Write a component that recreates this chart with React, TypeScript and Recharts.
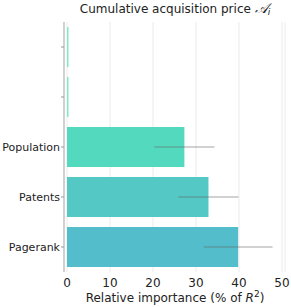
import React from 'react';
import { Bar, BarChart, CartesianGrid, Cell, ErrorBar, XAxis, YAxis } from 'recharts';

if (typeof document !== 'undefined') document.body.style.margin = '0';

const categories = ['c1', 'c2', 'Population', 'Patents', 'Pagerank'];
const tickLabels = ['', '', 'Population', 'Patents', 'Pagerank'];
const importance = [0.35, 0.35, 27.3, 32.9, 39.8];
const errors = [0, 0, 7.0, 7.0, 8.0];
const xTicks = [0, 10, 20, 30, 40, 50];

const COLORS = ['#7ee9c8', '#7ee9c8', '#53d9be', '#53c8c5', '#53bdcb'];
const FONT = '"DejaVu Sans", sans-serif';

const data = categories.map((c, i) => ({ key: c, label: tickLabels[i], value: importance[i], err: errors[i] }));

export default function App() {
	return (
		<div style={{ position: 'relative', width: 291, height: 307, background: '#fff', fontFamily: FONT, color: '#222' }}>
			<div style={{ position: 'absolute', left: 60, width: 230, top: 2, lineHeight: '14px', textAlign: 'center', fontSize: 12, whiteSpace: 'nowrap' }}>
				Cumulative acquisition price <span style={{ fontFamily: 'serif', fontStyle: 'italic', fontSize: 14 }}>𝒜</span>
				<i style={{ fontSize: 9, position: 'relative', top: 2 }}>i</i>
			</div>
			<div style={{ position: 'absolute', left: 60, width: 230, top: 291, lineHeight: '14px', textAlign: 'center', fontSize: 12, whiteSpace: 'nowrap' }}>
				Relative importance (% of <i>R</i>
				<sup style={{ fontSize: 9, lineHeight: 0 }}>2</sup>)
			</div>
			<BarChart width={291} height={307} data={data} layout="vertical" margin={{ top: 22, right: 6, bottom: 0, left: 0 }} barCategoryGap="10%">
				<CartesianGrid horizontal={false} stroke="#ebebeb" />
				<XAxis
					type="number"
					domain={[-0.7, 50.7]}
					ticks={xTicks}
					axisLine={false}
					tickLine={false}
					height={35}
					tick={{ fontSize: 12, fill: '#222', fontFamily: FONT }}
					tickMargin={0}
				/>
				<YAxis
					type="category"
					dataKey="key"
					width={64}
					tickFormatter={(v: string, i: number) => tickLabels[i] ?? ''}
					tick={{ fontSize: 11, fill: '#222', fontFamily: FONT }}
					axisLine={{ stroke: '#c4c4c4', strokeWidth: 1.5 }}
					tickLine={{ stroke: '#999' }}
					tickSize={3}
					tickMargin={1}
				/>
				<Bar dataKey="value" isAnimationActive={false}>
					{data.map((d, i) => (
						<Cell key={d.key} fill={COLORS[i]} />
					))}
					<ErrorBar dataKey="err" direction="x" width={0} stroke="rgba(100,100,100,0.4)" strokeWidth={1.5} />
				</Bar>
			</BarChart>
		</div>
	);
}
